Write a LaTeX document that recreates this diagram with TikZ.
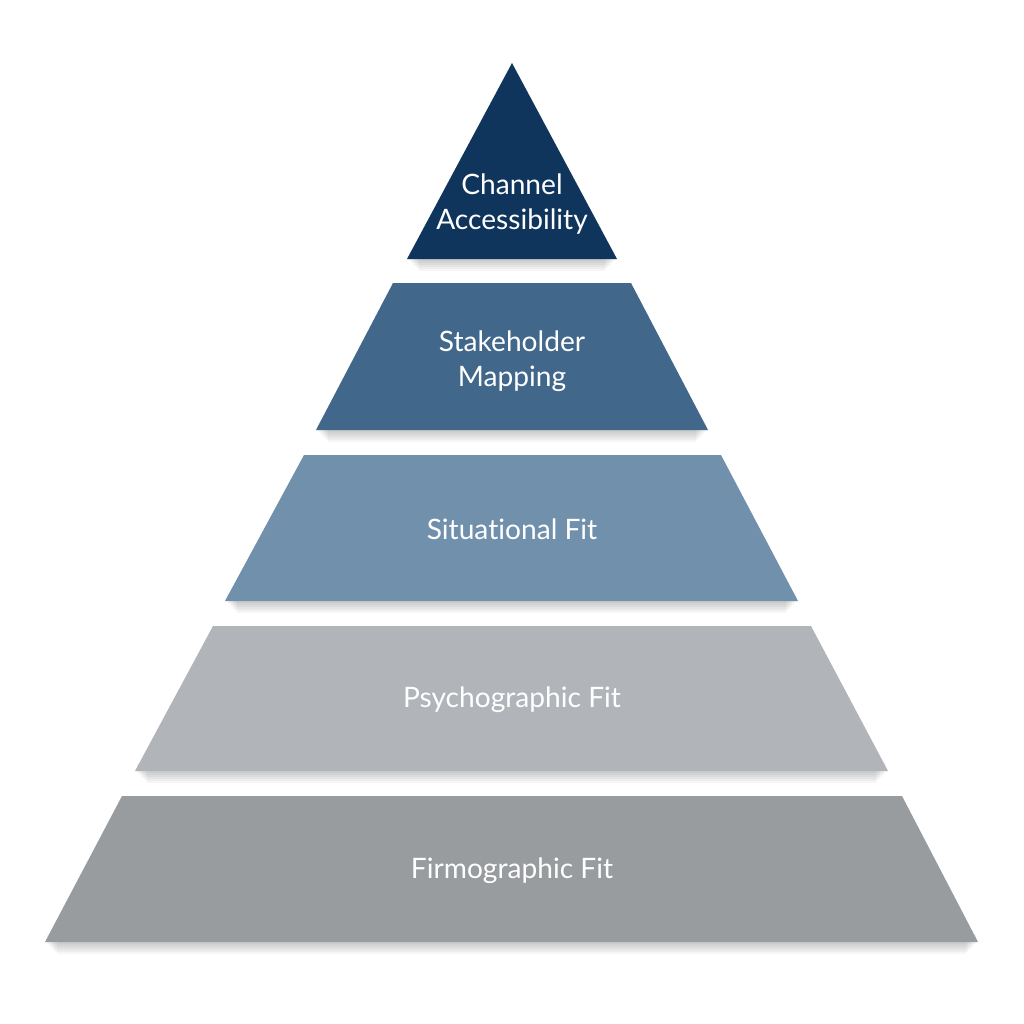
\documentclass[tikz,border=0pt]{standalone}
\usepackage{fontspec}
\setmainfont{Lato}[Ligatures=NoCommon]
\usepackage{tikz}

\definecolor{tierA}{HTML}{0F355D}
\definecolor{tierB}{HTML}{41678B}
\definecolor{tierC}{HTML}{7090AC}
\definecolor{tierD}{HTML}{B1B5BA}
\definecolor{tierE}{HTML}{989C9F}

\tikzset{
	tierlabel/.style={text=white, align=center, font=\fontsize{8}{9.9}\selectfont, inner sep=0pt},
	tiershadow/.style={black, opacity=0.035}
}

\begin{document}
\begin{tikzpicture}[x=0.01cm, y=-0.01cm]
		\useasboundingbox (0, 0) rectangle (1024, 1024);
		\fill[white] (0, 0) rectangle (1024, 1024);
		% soft shadows under each tier
		\foreach \yb/\xl/\xr in {259/407/617, 430/316/708, 601/225/798, 771/135/888, 942/45/978}
			\foreach \d in {2, 4, 6, 8, 10, 12}
				\fill[tiershadow] (\xl+\d, \yb-8) rectangle (\xr-\d, \yb+\d);
		% tiers, top to bottom
		\fill[tierA] (512, 63) -- (617, 259) -- (407, 259) -- cycle;
		\foreach \yt/\tl/\tr/\yb/\bl/\br/\col in {283/393/631/430/316/708/tierB, 455/304/721/601/225/798/tierC, 626/213/811/771/135/888/tierD, 796/122/902/942/45/978/tierE}
			\fill[\col] (\tl, \yt) -- (\tr, \yt) -- (\br, \yb) -- (\bl, \yb) -- cycle;
		% labels
		\node[tierlabel] (channel) at (512, 204) {Channel\\Accessibility};
		\node[tierlabel] (stakeholder) at (512, 361) {Stakeholder\\Mapping};
		\node[tierlabel] (situational) at (512, 529) {Situational Fit};
		\node[tierlabel] (psychographic) at (512, 700) {Psychographic Fit};
		\node[tierlabel] (firmographic) at (512, 871) {Firmographic Fit};
	\end{tikzpicture}
\end{document}
